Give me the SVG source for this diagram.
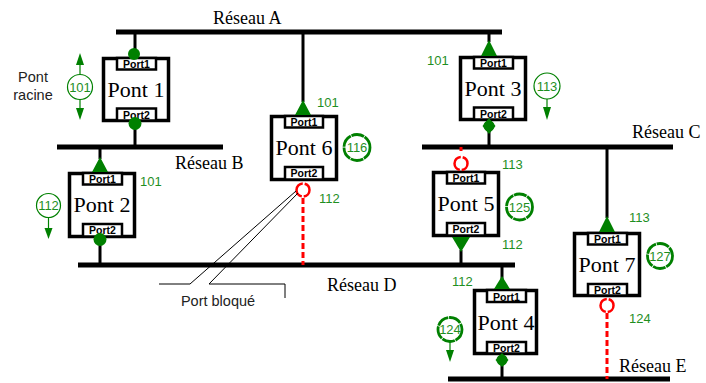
<svg xmlns="http://www.w3.org/2000/svg" width="706" height="383" viewBox="0 0 706 383">
<style>
.bar{stroke:#000;stroke-width:5;fill:none}
.wire{stroke:#000;stroke-width:3;fill:none}
.box{fill:#fff;stroke:#000;stroke-width:3.5}
.port{fill:#fff;stroke:#000;stroke-width:2.5}
.ptxt{font-family:"Liberation Sans",Arial,sans-serif;font-weight:bold;font-size:10.5px;text-anchor:middle;fill:#000}
.ntxt{font-family:"Liberation Serif","Times New Roman",serif;font-size:22px;text-anchor:middle;fill:#000}
.net{font-family:"Liberation Serif","Times New Roman",serif;font-size:18px;fill:#000}
.g{fill:#008000}
.gt{font-family:"Liberation Sans",Arial,sans-serif;font-size:13px;fill:#1f8f1f}
.ct{font-family:"Liberation Sans",Arial,sans-serif;font-size:13px;fill:#1f8f1f;text-anchor:middle}
.thin{fill:#fff;stroke:#008000;stroke-width:1.2}
.thick{fill:#fff;stroke:#008000;stroke-width:2.8;stroke-dasharray:13 0.8}
.gl{stroke:#008000;stroke-width:1.2}
.red{fill:none;stroke:#ff0000;stroke-width:2.5;stroke-dasharray:9.2 2 18.4 2 9.2}
.rdash{stroke:#ff0000;stroke-width:3;stroke-dasharray:6 3}
.call{stroke:#000;stroke-width:1;fill:none}
.lbl{font-family:"Liberation Sans",Arial,sans-serif;font-size:14.5px;fill:#222}
</style>
<g id="connectors">
<line class="bar" x1="116" y1="32" x2="502" y2="32"/>
<line class="bar" x1="57" y1="147" x2="223" y2="147"/>
<line class="bar" x1="422" y1="147" x2="673" y2="147"/>
<line class="bar" x1="78" y1="265" x2="515" y2="265"/>
<line class="bar" x1="448" y1="379" x2="670" y2="379"/>
<line class="wire" x1="135" y1="32" x2="135" y2="57"/>
<line class="wire" x1="135" y1="122" x2="135" y2="147"/>
<line class="wire" x1="303" y1="32" x2="303" y2="102"/>
<line class="wire" x1="489" y1="32" x2="489" y2="42"/>
<line class="wire" x1="489" y1="121" x2="489" y2="147"/>
<line class="wire" x1="100" y1="147" x2="100" y2="159"/>
<line class="wire" x1="100" y1="238" x2="100" y2="265"/>
<line class="wire" x1="461" y1="250" x2="461" y2="265"/>
<line class="wire" x1="607" y1="147" x2="607" y2="218"/>
<line class="wire" x1="502" y1="265" x2="502" y2="279"/>
<line class="wire" x1="502" y1="355" x2="502" y2="379"/>
<line class="rdash" x1="303" y1="198" x2="303" y2="265"/>
<line class="rdash" x1="607" y1="313" x2="607" y2="379"/>
<line stroke="#ff0000" stroke-width="3" x1="461" y1="147" x2="461" y2="151"/>
</g>
<g id="labels">
<text class="net" x="213" y="24">Réseau A</text>
<text class="net" x="175" y="169">Réseau B</text>
<text class="net" x="632" y="138">Réseau C</text>
<text class="net" x="327" y="291">Réseau D</text>
<text class="net" x="619" y="372">Réseau E</text>
<text class="lbl" x="33" y="82" text-anchor="middle">Pont</text>
<text class="lbl" x="33" y="100" text-anchor="middle">racine</text>
</g>
<g id="pont1">
<rect class="box" x="103.5" y="58.5" width="65" height="62"/>
<rect class="port" x="117" y="58" width="39" height="11.5"/>
<rect class="port" x="117" y="108.5" width="39" height="12"/>
<text class="ptxt" x="136.5" y="68">Port1</text>
<text class="ptxt" x="136.5" y="118.5">Port2</text>
<text class="ntxt" x="136" y="97">Pont 1</text>
<circle class="g" cx="134" cy="54" r="6"/>
<circle class="g" cx="135" cy="123.5" r="6.5"/>
</g>
<g id="pont2">
<rect class="box" x="69.5" y="173.5" width="65" height="63"/>
<rect class="port" x="83" y="173" width="39" height="11.5"/>
<rect class="port" x="83" y="224" width="39" height="12.5"/>
<text class="ptxt" x="102.5" y="183">Port1</text>
<text class="ptxt" x="102.5" y="234">Port2</text>
<text class="ntxt" x="102" y="212">Pont 2</text>
<polygon class="g" points="100,157 108,172 92,172"/>
<circle class="g" cx="100" cy="239.5" r="6.5"/>
<text class="gt" x="140" y="186">101</text>
</g>
<g id="pont6">
<rect class="box" x="271.5" y="116.5" width="65" height="63"/>
<rect class="port" x="285" y="116" width="38" height="11.5"/>
<rect class="port" x="285" y="167" width="38" height="12.5"/>
<text class="ptxt" x="304" y="126">Port1</text>
<text class="ptxt" x="304" y="177">Port2</text>
<text class="ntxt" x="304" y="155">Pont 6</text>
<polygon class="g" points="303,100 311,115 295,115"/>
<circle class="red" cx="303" cy="190" r="6.5"/>
<text class="gt" x="317" y="107">101</text>
<text class="gt" x="319" y="203">112</text>
</g>
<g id="pont3">
<rect class="box" x="460.5" y="57.5" width="65" height="62"/>
<rect class="port" x="474" y="57" width="39" height="11.5"/>
<rect class="port" x="474" y="107.5" width="39" height="12"/>
<text class="ptxt" x="493.5" y="67">Port1</text>
<text class="ptxt" x="493.5" y="117.5">Port2</text>
<text class="ntxt" x="493" y="96">Pont 3</text>
<polygon class="g" points="489,40 497,56 481,56"/>
<circle class="g" cx="489" cy="126" r="5.5"/>
<polygon class="g" points="489,118 495.5,126 489,134 482.5,126"/>
<text class="gt" x="427" y="65">101</text>
</g>
<g id="pont5">
<rect class="box" x="433.5" y="172.5" width="65" height="63"/>
<rect class="port" x="447" y="172" width="38" height="11.5"/>
<rect class="port" x="447" y="223" width="38" height="12.5"/>
<text class="ptxt" x="466" y="182">Port1</text>
<text class="ptxt" x="466" y="233">Port2</text>
<text class="ntxt" x="466" y="211">Pont 5</text>
<polygon class="g" points="452,237 470,237 461,252"/>
<circle class="red" cx="461" cy="163.5" r="6.5"/>
<text class="gt" x="502" y="169">113</text>
<text class="gt" x="502" y="249">112</text>
</g>
<g id="pont7">
<rect class="box" x="574.5" y="233.5" width="65" height="62"/>
<rect class="port" x="588" y="233" width="39" height="11.5"/>
<rect class="port" x="588" y="284" width="39" height="11.5"/>
<text class="ptxt" x="607.5" y="243">Port1</text>
<text class="ptxt" x="607.5" y="293.5">Port2</text>
<text class="ntxt" x="607" y="272">Pont 7</text>
<polygon class="g" points="607,216 615,232 599,232"/>
<circle class="red" cx="607" cy="305.5" r="6.5"/>
<text class="gt" x="629" y="222">113</text>
<text class="gt" x="629" y="323">124</text>
</g>
<g id="pont4">
<rect class="box" x="474.5" y="290.5" width="62" height="63"/>
<rect class="port" x="487" y="290" width="39" height="12"/>
<rect class="port" x="487" y="342" width="39" height="11.5"/>
<text class="ptxt" x="506.5" y="300.5">Port1</text>
<text class="ptxt" x="506.5" y="352">Port2</text>
<text class="ntxt" x="506" y="330">Pont 4</text>
<polygon class="g" points="502,276 510,289 494,289"/>
<circle class="g" cx="502" cy="360" r="5.5"/>
<polygon class="g" points="502,353 508.5,360 502,367 495.5,360"/>
<text class="gt" x="452" y="286">112</text>
</g>
<g id="cost101">
<line class="gl" x1="80" y1="74.5" x2="80" y2="63"/>
<polygon class="g" points="80,53 84,65 76,65"/>
<line class="gl" x1="80" y1="99.5" x2="80" y2="109"/>
<polygon class="g" points="76,108 84,108 80,120"/>
<circle class="thin" cx="80" cy="87" r="12.5"/>
<text class="ct" x="80" y="91.5">101</text>
</g>
<g id="cost112">
<line class="gl" x1="48.5" y1="217.5" x2="48.5" y2="229"/>
<polygon class="g" points="44.5,228 52.5,228 48.5,239"/>
<circle class="thin" cx="48.5" cy="205.5" r="12"/>
<text class="ct" x="48.5" y="210">112</text>
</g>
<g id="cost113">
<line class="gl" x1="547" y1="99" x2="547" y2="108"/>
<polygon class="g" points="543,107 551,107 547,120"/>
<circle class="thin" cx="547" cy="86" r="13"/>
<text class="ct" x="547" y="90.5">113</text>
</g>
<g id="cost116">
<circle class="thick" cx="357" cy="147.5" r="13"/>
<text class="ct" x="357" y="152">116</text>
</g>
<g id="cost125">
<circle class="thick" cx="519.5" cy="207" r="13"/>
<text class="ct" x="519.5" y="211.5">125</text>
</g>
<g id="cost127">
<circle class="thick" cx="660" cy="256" r="12.5"/>
<text class="ct" x="660" y="260.5">127</text>
</g>
<g id="cost124">
<line class="gl" x1="450" y1="342" x2="450" y2="351"/>
<polygon class="g" points="446,350 454,350 450,362"/>
<circle class="thick" cx="450" cy="329.5" r="12"/>
<text class="ct" x="450" y="334">124</text>
</g>
<g id="callout">
<polyline class="call" points="296,191 190,284 159,284"/>
<polyline class="call" points="298,193 209,284 285,284 285,298"/>
<text class="lbl" x="218" y="306" text-anchor="middle">Port bloqué</text>
</g>
</svg>
